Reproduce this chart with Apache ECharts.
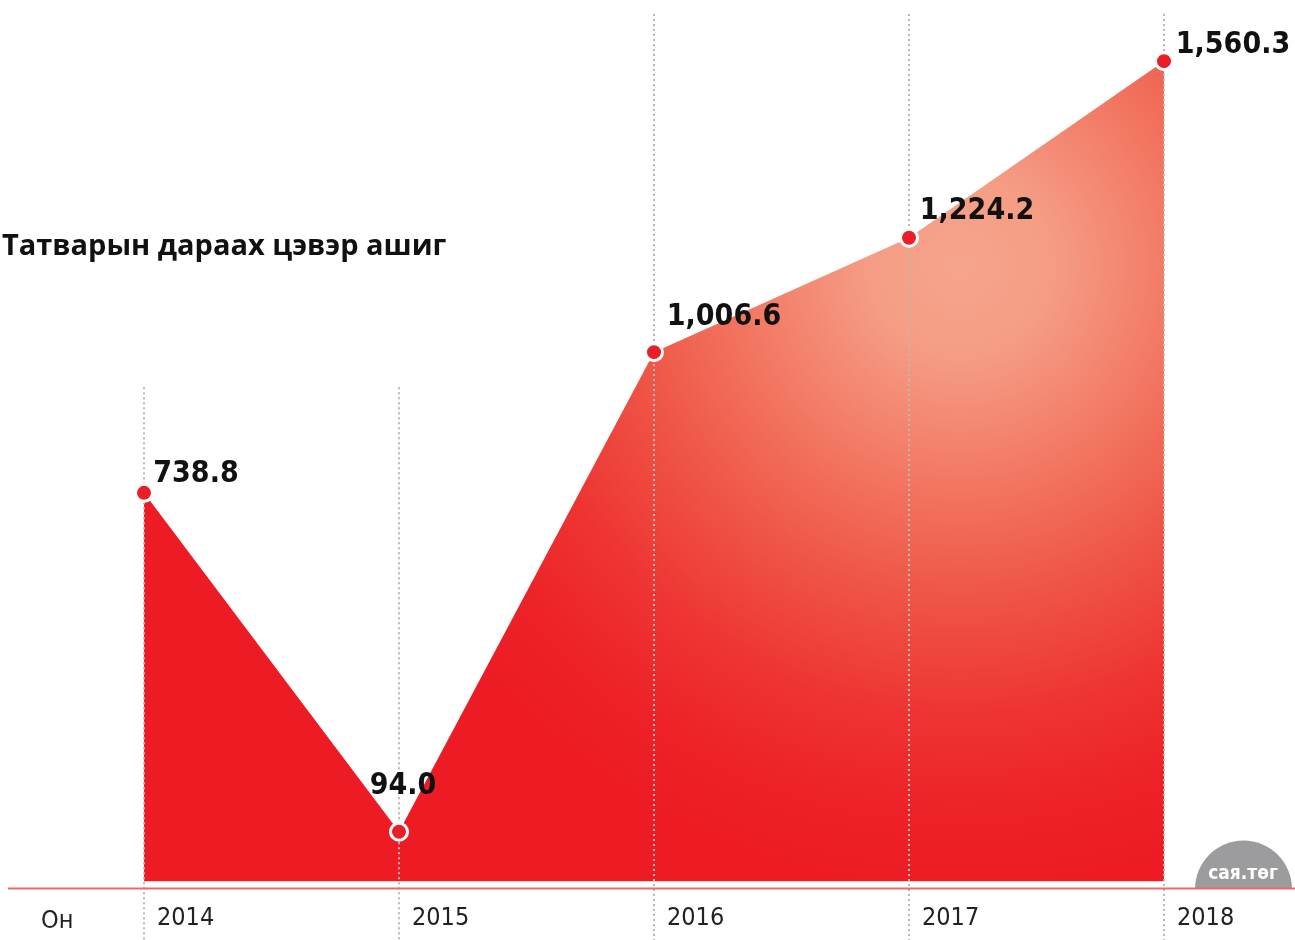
<!DOCTYPE html>
<html>
<head>
<meta charset="utf-8">
<script src="https://cdn.jsdelivr.net/npm/echarts@6/dist/echarts.min.js"></script>
<style>
  html, body { margin: 0; padding: 0; background: #fff; }
  #chart { width: 1295px; height: 940px; }
</style>
</head>
<body>
<div id="chart"></div>
<script>
// ---- data ----
const years = ['2014', '2015', '2016', '2017', '2018'];
const profit = [738.8, 94.0, 1006.6, 1224.2, 1560.3];
const titleText = 'Татварын дараах цэвэр ашиг';
const axisName = 'Он';
const unitText = 'сая.төг';

// ---- layout / style (not data) ----
const condensed = "'Liberation Sans Narrow', 'DejaVu Sans Condensed', sans-serif";
const guideTopValue = [940, 940, 1650, 1650, 1650];
const labelOffsets = [[52, -19], [4, -46], [70, -35], [68, -27], [69, -16]];

const fmt = v => v.toLocaleString('en-US', { minimumFractionDigits: 1, maximumFractionDigits: 1 });

const chart = echarts.init(document.getElementById('chart'), null, { renderer: 'canvas' });

const areaGradient = new echarts.graphic.RadialGradient(960, 265, 620, [
  { offset: 0, color: '#f6a48c' },
  { offset: 0.15, color: '#f59c84' },
  { offset: 0.32, color: '#f37d68' },
  { offset: 0.52, color: '#ef5848' },
  { offset: 0.72, color: '#ee3533' },
  { offset: 0.88, color: '#ed2228' },
  { offset: 1, color: '#ed1c24' }
], true);

const option = {
  animation: false,
  title: [
    {
      text: titleText, left: -3, top: 227,
      textStyle: { fontFamily: "'Open Sans', 'Noto Sans', sans-serif", fontWeight: 'bold', fontSize: 29, color: '#111' }
    },
    {
      text: axisName, left: 36, top: 904,
      textStyle: { fontFamily: condensed, fontWeight: 'normal', fontSize: 25, color: '#222' }
    }
  ],
  grid: { left: 144, right: 131, top: 14, bottom: 0, containLabel: false },
  xAxis: {
    type: 'category',
    data: years,
    boundaryGap: false,
    axisLine: { show: false },
    axisTick: { show: false },
    splitLine: { show: false },
    axisLabel: {
      inside: true,
      margin: 22,
      align: 'left',
      verticalAlign: 'middle',
      padding: [0, 0, 0, 13],
      fontFamily: condensed,
      fontSize: 25,
      color: '#222'
    }
  },
  yAxis: {
    type: 'value',
    min: -112,
    max: 1650,
    show: false,
    splitLine: { show: false }
  },
  series: [
    {
      type: 'line',
      z: 1,
      data: profit,
      showSymbol: false,
      lineStyle: { width: 0, opacity: 0 },
      areaStyle: { color: areaGradient, opacity: 1 },
      silent: true
    },
    {
      type: 'line',
      z: 2,
      data: profit,
      showSymbol: false,
      lineStyle: { width: 0, opacity: 0 },
      silent: true,
      markLine: {
        z: 2,
        silent: true,
        symbol: ['none', 'none'],
        label: { show: false },
        lineStyle: { type: [2, 3], color: '#b8b8b8', width: 2 },
        data: years.map((y, i) => [
          { coord: [i, guideTopValue[i]] },
          { coord: [i, -112] }
        ])
      }
    },
    {
      type: 'line',
      z: 4,
      data: profit.map((v, i) => ({
        value: v,
        label: {
          show: true,
          position: 'inside',
          offset: labelOffsets[i],
          formatter: () => fmt(v)
        }
      })),
      symbol: 'circle',
      symbolSize: 17,
      itemStyle: { color: '#e81e28', borderColor: '#ffffff', borderWidth: 3 },
      lineStyle: { width: 0, opacity: 0 },
      label: {
        fontFamily: condensed,
        fontWeight: 'bold',
        fontSize: 30,
        color: '#111',
        align: 'center',
        verticalAlign: 'middle'
      },
      silent: true
    }
  ],
  graphic: [
    {
      type: 'sector',
      z: 10,
      shape: { cx: 1243.5, cy: 889, r: 48.5, r0: 0, startAngle: Math.PI, endAngle: Math.PI * 2 },
      style: { fill: '#9c9c9e' }
    },
    {
      type: 'text',
      z: 11,
      x: 1243, y: 874,
      style: {
        text: unitText, fill: '#ffffff',
        font: "bold 19px " + condensed,
        align: 'center', verticalAlign: 'middle'
      }
    },
    {
      type: 'line',
      z: 12,
      shape: { x1: 8, y1: 888.5, x2: 1295, y2: 888.5 },
      style: { stroke: '#f0676c', lineWidth: 2 }
    }
  ]
};

chart.setOption(option);
</script>
</body>
</html>
